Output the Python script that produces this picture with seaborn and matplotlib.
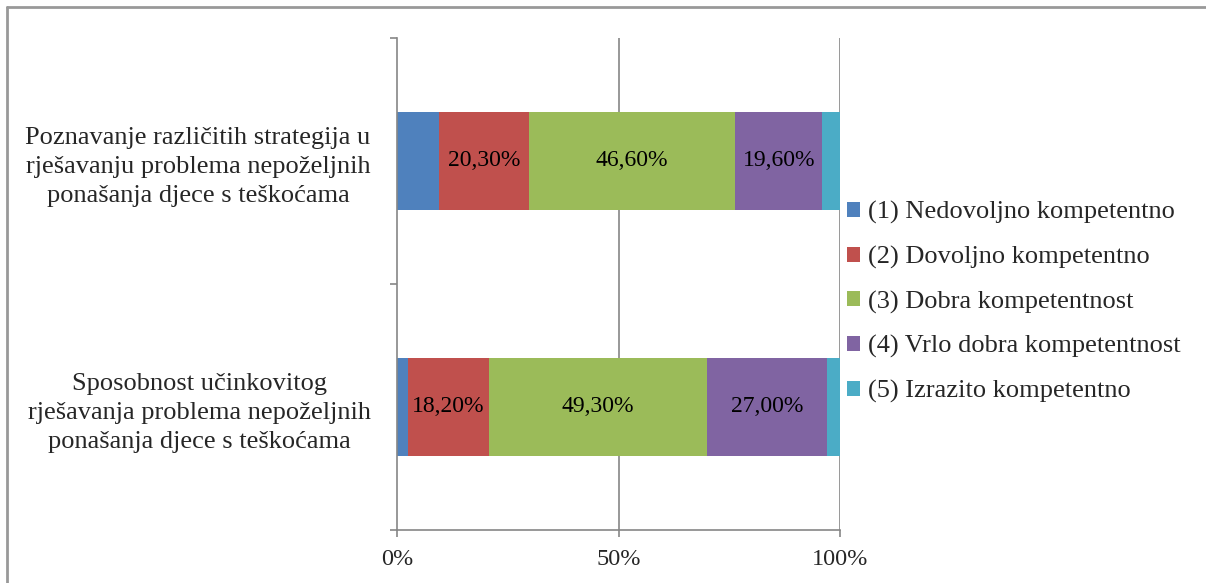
import matplotlib
matplotlib.use("Agg")
import matplotlib.pyplot as plt
from matplotlib.lines import Line2D
from matplotlib.patches import Patch
import numpy as np
import pandas as pd
import seaborn as sns

# ─── Data ────────────────────────────────────────────────────

categories = [
    "Poznavanje različitih strategija u\nrješavanju problema nepoželjnih\nponašanja djece s teškoćama",
    "Sposobnost učinkovitog\nrješavanja problema nepoželjnih\nponašanja djece s teškoćama",
]
series_names = [
    "(1) Nedovoljno kompetentno",
    "(2) Dovoljno kompetentno",
    "(3) Dobra kompetentnost",
    "(4) Vrlo dobra kompetentnost",
    "(5) Izrazito kompetentno",
]
level_1 = [9.5, 2.5]
level_2 = [20.3, 18.2]
level_3 = [46.6, 49.3]
level_4 = [19.6, 27.0]
level_5 = [4.0, 3.0]
labelled = [False, True, True, True, False]  # which series show data labels

colors = ["#4F81BD", "#C0504D", "#9BBB59", "#8064A2", "#4BACC6"]
x_ticks = [0, 50, 100]
x_tick_labels = ["0%", "50%", "100%"]

# ─── Style ───────────────────────────────────────────────────

sns.set_style("white")
plt.rcParams["font.family"] = ["Liberation Serif", "DejaVu Serif"]
FS = 19
FS_SMALL = 17
GRAY = "#868686"

fig = plt.figure(figsize=(12.06, 5.83), dpi=100)
ax = fig.add_axes([397 / 1206, 1 - 530 / 583, 443 / 1206, 492 / 583])

levels = np.array([level_1, level_2, level_3, level_4, level_5])
cum = np.cumsum(levels, axis=0)

# draw cumulative totals from the longest down so shorter ones sit on top
for k in range(len(series_names) - 1, -1, -1):
    df = pd.DataFrame({"cat": categories, "val": cum[k]})
    sns.barplot(data=df, x="val", y="cat", orient="h", color=colors[k],
                width=0.4, saturation=1, linewidth=0, ax=ax)

# data labels
for k in range(len(series_names)):
    if not labelled[k]:
        continue
    for i in range(len(categories)):
        left = cum[k][i] - levels[k][i]
        txt = f"{levels[k][i]:.2f}".replace(".", ",") + "%"
        ax.text(left + levels[k][i] / 2, i, txt, ha="center", va="center",
                fontsize=FS_SMALL, color="black")

# ─── Axes ────────────────────────────────────────────────────

ax.set_xlim(0, 100)
ax.set_ylim(1.5, -0.5)
ax.set_xlabel("")
ax.set_ylabel("")
ax.set_xticks(x_ticks)
ax.set_xticklabels(x_tick_labels, fontsize=17.5)
ax.set_yticks([-0.5, 0.5, 1.5])
ax.set_yticklabels([])
ax.set_yticks(range(len(categories)), minor=True)
ax.set_yticklabels(categories, minor=True, fontsize=FS)
for lab in ax.get_yticklabels(minor=True):
    lab.set_multialignment("center")
    lab.set_linespacing(1.4)

ax.tick_params(axis="x", which="major", direction="out", length=5, width=1.2,
               color=GRAY, pad=9, bottom=True)
ax.tick_params(axis="y", which="major", direction="out", length=5, width=1.2,
               color=GRAY, left=True)
ax.tick_params(axis="y", which="minor", length=0, pad=19)

for side in ["top", "right"]:
    ax.spines[side].set_visible(False)
for side in ["left", "bottom"]:
    ax.spines[side].set_color(GRAY)
    ax.spines[side].set_linewidth(1.2)

for xv in x_ticks[1:]:
    ax.axvline(xv, color=GRAY, linewidth=1.2, zorder=0)

# ─── Legend ──────────────────────────────────────────────────

handles = [Patch(facecolor=c, edgecolor="none") for c in colors]
fig.legend(handles, series_names, loc="center left",
           bbox_to_anchor=(847 / 1206, 1 - 302 / 583), frameon=False,
           fontsize=FS, handlelength=0.5, handleheight=0.5, handletextpad=0.3,
           labelspacing=0.82, borderpad=0, borderaxespad=0)

# outer chart border
fig.add_artist(Line2D([7 / 1206, 7 / 1206], [0, 1 - 7 / 583],
                      transform=fig.transFigure, color="#999999", linewidth=2))
fig.add_artist(Line2D([7 / 1206, 1], [1 - 7 / 583, 1 - 7 / 583],
                      transform=fig.transFigure, color="#999999", linewidth=2))

fig.savefig("out.png", dpi=100)
